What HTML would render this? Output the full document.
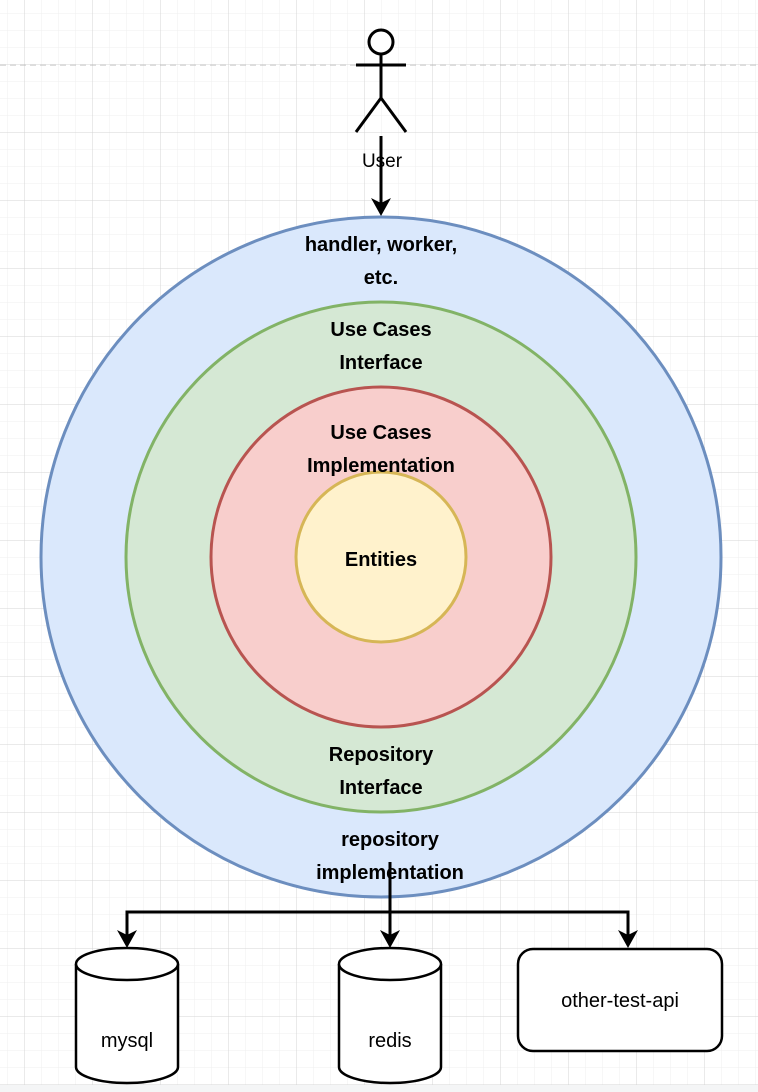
<!DOCTYPE html>
<html><head><style>html,body{margin:0;padding:0;background:#fff}svg{display:block}</style></head>
<body>
<svg width="758" height="1092" xmlns="http://www.w3.org/2000/svg" font-family="Liberation Sans, Arial, sans-serif">
<defs>
<pattern id="minor" x="7.5" y="13.5" width="17" height="17" patternUnits="userSpaceOnUse"><path d="M0 0H17M0 0V17" stroke="#efefef" stroke-width="1" fill="none"/></pattern>
<pattern id="major" x="24.5" y="64.5" width="68" height="68" patternUnits="userSpaceOnUse"><path d="M0 0H68M0 0V68" stroke="#d4d4d4" stroke-width="1" fill="none"/></pattern>
</defs>
<rect width="758" height="1085" fill="url(#minor)"/>
<rect width="758" height="1085" fill="url(#major)"/>
<rect y="1085" width="758" height="7" fill="#f4f5f6"/>
<line x1="0" y1="65" x2="758" y2="65" stroke="#bbb" stroke-dasharray="6,4"/>
<g stroke="#000" stroke-width="3" fill="#fff">
<circle cx="381" cy="42" r="12"/>
<line x1="381" y1="54" x2="381" y2="98"/>
<line x1="356" y1="65" x2="406" y2="65"/>
<line x1="381" y1="98" x2="356" y2="132"/>
<line x1="381" y1="98" x2="406" y2="132"/>
</g>
<line x1="381" y1="136" x2="381" y2="205" stroke="#000" stroke-width="3"/>
<text x="382" y="167" font-size="19" text-anchor="middle" fill="#000" stroke="#fff" stroke-width="0">User</text>
<path d="M371 198 L381 216 L391 198 L381 203Z" fill="#000"/>
<circle cx="381" cy="557" r="340" fill="#dae8fc" stroke="#6c8ebf" stroke-width="3"/>
<circle cx="381" cy="557" r="255" fill="#d5e8d4" stroke="#82b366" stroke-width="3"/>
<circle cx="381" cy="557" r="170" fill="#f8cecc" stroke="#b85450" stroke-width="3"/>
<circle cx="381" cy="557" r="85" fill="#fff2cc" stroke="#d6b656" stroke-width="3"/>
<g font-size="20" font-weight="bold" text-anchor="middle">
<text x="381" y="251">handler, worker,</text>
<text x="381" y="284">etc.</text>
<text x="381" y="336">Use Cases</text>
<text x="381" y="369">Interface</text>
<text x="381" y="439">Use Cases</text>
<text x="381" y="472">Implementation</text>
<text x="381" y="566">Entities</text>
<text x="381" y="761">Repository</text>
<text x="381" y="794">Interface</text>
<text x="390" y="846">repository</text>
<text x="390" y="879">implementation</text>
</g>
<g stroke="#000" stroke-width="3" fill="none">
<path d="M390 862 V937"/>
<path d="M127 937 V912 H628 V937"/>
</g>
<g fill="#000">
<path d="M117 930 L127 948 L137 930 L127 935Z"/>
<path d="M380 930 L390 948 L400 930 L390 935Z"/>
<path d="M618 930 L628 948 L638 930 L628 935Z"/>
</g>
<g stroke="#000" stroke-width="2.5" fill="#fff">
<path d="M76 964 A51 16 0 0 1 178 964 V1067 A51 16 0 0 1 76 1067 Z"/>
<path d="M76 964 A51 16 0 0 0 178 964"/>
<path d="M339 964 A51 16 0 0 1 441 964 V1067 A51 16 0 0 1 339 1067 Z"/>
<path d="M339 964 A51 16 0 0 0 441 964"/>
<rect x="518" y="949" width="204" height="102" rx="15" ry="15"/>
</g>
<g font-size="20" text-anchor="middle">
<text x="127" y="1047">mysql</text>
<text x="390" y="1047">redis</text>
<text x="620" y="1007">other-test-api</text>
</g>
</svg>
</body></html>
